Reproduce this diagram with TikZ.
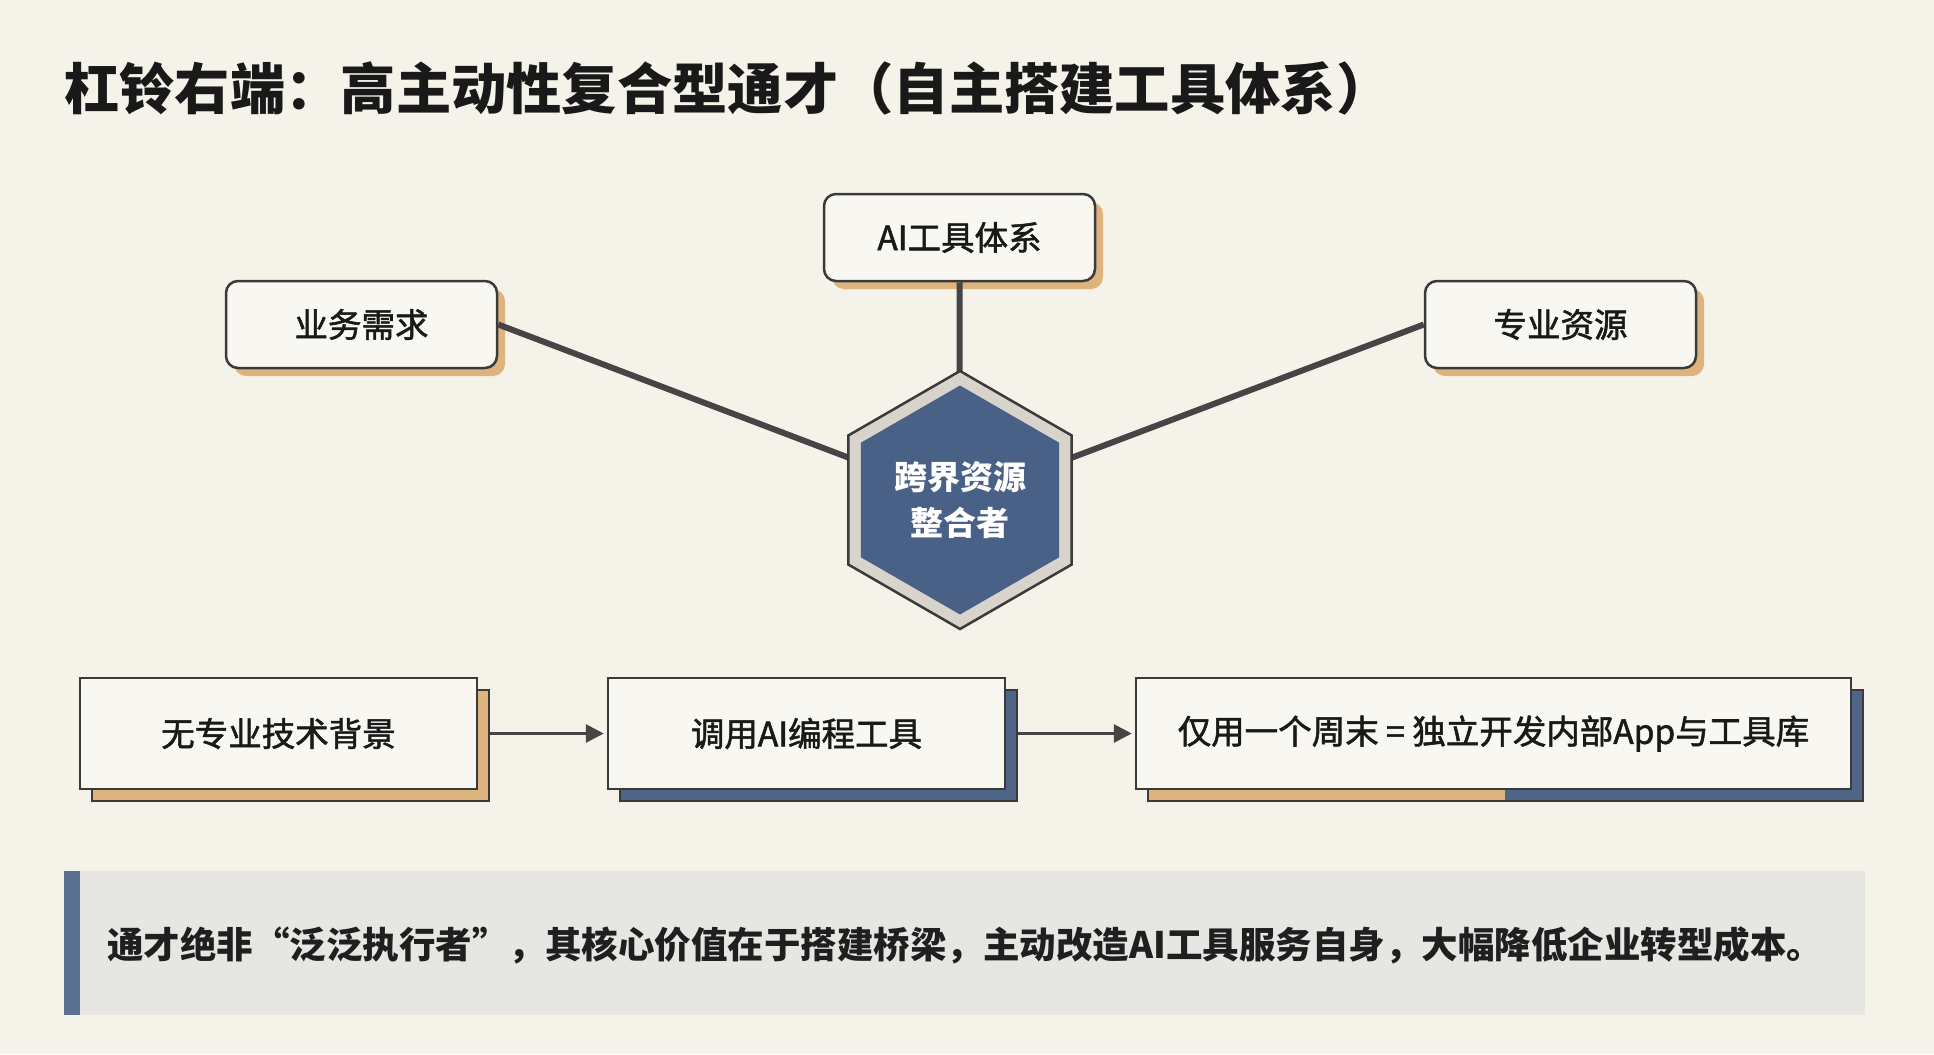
\documentclass[tikz,border=0pt]{standalone}
\usepackage{fontspec}
\setmainfont{Noto Sans CJK SC}
\newfontfamily\medfont[FakeBold=1.6]{Noto Sans CJK SC}
\usetikzlibrary{shapes.geometric,shadows,arrows.meta}
\definecolor{bgc}{HTML}{F4F2E9}
\definecolor{boxfill}{HTML}{F8F7F1}
\definecolor{dark}{HTML}{3A3A3A}
\definecolor{linec}{HTML}{454545}
\definecolor{ochre}{HTML}{DDB47D}
\definecolor{slate}{HTML}{4F6588}
\definecolor{hexblue}{HTML}{4A6187}
\definecolor{ring}{HTML}{D8D4CB}
\definecolor{banner}{HTML}{E6E6E3}
\definecolor{bar}{HTML}{5B6F8F}
\tikzset{
  topbox/.style={draw=dark, line width=2.5pt, fill=boxfill, rounded corners=12pt,
    minimum width=271pt, minimum height=87pt, inner sep=0pt,
    font=\medfont\fontsize{33.5}{38}\selectfont, text=black!90,
    drop shadow={shadow xshift=8pt, shadow yshift=-8pt, fill=ochre, opacity=1}},
  flowbox/.style={draw=dark, line width=2.5pt, fill=boxfill,
    minimum height=111pt, inner sep=0pt,
    font=\medfont\fontsize{33.5}{38}\selectfont, text=black!90},
  oshadow/.style={drop shadow={shadow xshift=12pt, shadow yshift=-12pt, fill=ochre, draw=dark, line width=2pt, opacity=1}},
  bshadow/.style={drop shadow={shadow xshift=12pt, shadow yshift=-12pt, fill=slate, draw=dark, line width=2pt, opacity=1}},
  spoke/.style={draw=linec, line width=6pt},
  hexshape/.style={regular polygon, regular polygon sides=6, shape border rotate=30, inner sep=0pt},
  flowarrow/.style={draw=linec, line width=3pt, -{Triangle[length=18pt,width=18pt]}, shorten >=3pt},
}
\begin{document}
\begin{tikzpicture}[x=1pt,y=-1pt]
\useasboundingbox (0,0) rectangle (1934,1054);
\fill[bgc] (0,0) rectangle (1934,1054);

% title
\node[anchor=west, inner sep=0pt, font=\fontsize{55.3}{60}\selectfont\bfseries, text=black!90] (title) at (64,88) {杠铃右端：高主动性复合型通才（自主搭建工具体系）};

% hub
\coordinate (hc) at (960,500);
\node[topbox] (need) at (361.5,324.5) {业务需求};
\node[topbox] (ai) at (959.5,237.5) {AI工具体系};
\node[topbox] (res) at (1560.5,324.5) {专业资源};

\draw[spoke] (need.east) -- (hc);
\draw[spoke] (res.west) -- (hc);
\draw[spoke] (ai.south) -- (hc);

\node[hexshape, minimum size=258pt, fill=ring, draw=dark, line width=2.5pt] (hexo) at (hc) {};
\node[hexshape, minimum size=229pt, fill=hexblue] (hex) at (hc) {};
\node[align=center, text=white, font=\fontsize{33}{46}\selectfont\bfseries] (hextxt) at (hc) {跨界资源\\整合者};

% flow row
\node[flowbox, oshadow, minimum width=397pt] (b1) at (278.5,733.5) {无专业技术背景};
\node[flowbox, bshadow, minimum width=397pt] (b2) at (806.5,733.5) {调用AI编程工具};
\fill[ochre] (1148,690) rectangle (1863,801);
\fill[slate] (1505,690) rectangle (1863,801);
\draw[dark, line width=2pt] (1148,690) rectangle (1863,801);
\node[flowbox, minimum width=715pt] (b3) at (1493.5,733.5) {仅用一个周末 = 独立开发内部App与工具库};

\draw[flowarrow] ([xshift=12pt]b1.east) -- (b2.west);
\draw[flowarrow] ([xshift=12pt]b2.east) -- (b3.west);

% banner
\node[fill=banner, minimum width=1801pt, minimum height=144pt, anchor=north west, inner sep=0pt] (ban) at (64,871) {};
\fill[bar] (ban.north west) rectangle ([xshift=16pt]ban.south west);
\node[anchor=west, inner sep=0pt, font=\fontsize{36.5}{40}\selectfont\bfseries, text=black!88] (bantxt) at (107,945) {通才绝非“泛泛执行者”，其核心价值在于搭建桥梁，主动改造AI工具服务自身，大幅降低企业转型成本。};
\end{tikzpicture}
\end{document}
